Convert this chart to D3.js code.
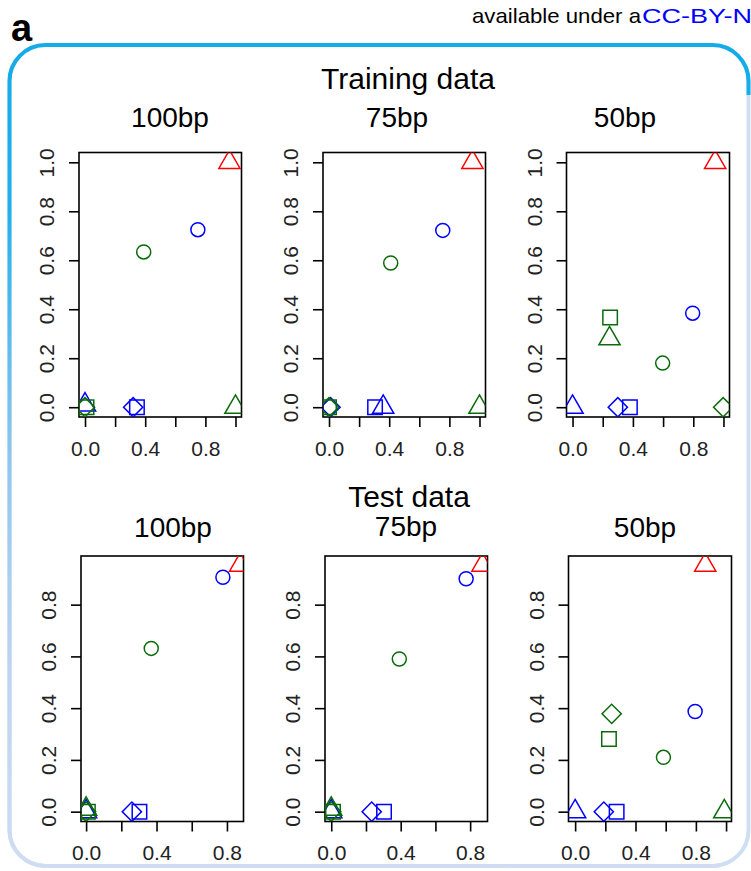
<!DOCTYPE html>
<html>
<head>
<meta charset="utf-8">
<script src="https://cdn.jsdelivr.net/npm/d3@7"></script>
<style>
  body { margin: 0; background: #fff; }
  svg { display: block; font-family: "Liberation Sans", Arial, sans-serif; }
</style>
</head>
<body>
<div id="chart"></div>
<script>
// series (same order in every panel)
var seriesNames  = ["blue circle", "blue square", "blue triangle", "blue diamond",
                    "green circle", "green square", "green triangle", "green diamond", "red triangle"];
var seriesShapes = ["circle", "square", "triangle", "diamond",
                    "circle", "square", "triangle", "diamond", "triangle"];
var seriesColors = ["#0000ff", "#0000ff", "#0000ff", "#0000ff",
                    "#0b6b0b", "#0b6b0b", "#0b6b0b", "#0b6b0b", "#ff0000"];

// Training data
var train100X = [0.75, 0.345, 0.0, 0.32, 0.39, 0.01, 1.0, 0.0, 0.96];
var train100Y = [0.725, 0.0, 0.01, 0.0, 0.634, 0.0, 0.0, 0.0, 1.0];
var train75X  = [0.756, 0.306, 0.36, 0.01, 0.41, 0.0, 1.0, 0.0, 0.953];
var train75Y  = [0.722, 0.0, 0.0, 0.0, 0.589, 0.0, 0.0, 0.0, 1.0];
var train50X  = [0.796, 0.38, 0.0, 0.30, 0.597, 0.249, 0.245, 0.998, 0.945];
var train50Y  = [0.384, 0.0, 0.0, 0.0, 0.18, 0.366, 0.28, 0.0, 1.0];

// Test data
var test100X = [0.777, 0.303, 0.0, 0.26, 0.37, 0.01, 0.0, 0.0, 0.875];
var test100Y = [0.906, 0.0, 0.0, 0.0, 0.631, 0.0, 0.01, 0.0, 0.953];
var test75X  = [0.777, 0.304, 0.0, 0.233, 0.392, 0.01, 0.0, 0.0, 0.871];
var test75Y  = [0.9, 0.0, 0.0, 0.0, 0.59, 0.0, 0.01, 0.0, 0.953];
var test50X  = [0.795, 0.275, 0.0, 0.19, 0.585, 0.224, 0.988, 0.242, 0.862];
var test50Y  = [0.387, 0.0, 0.0, 0.0, 0.21, 0.281, 0.0, 0.378, 0.953];

// titles and ticks
var groupTitles = ["Training data", "Test data"];
var panelTitles = ["100bp", "75bp", "50bp"];
var xTicks = [0, 0.2, 0.4, 0.6, 0.8, 1.0];
var xTickLabels = [0, 0.4, 0.8];
var yTicksTrain = [0, 0.2, 0.4, 0.6, 0.8, 1.0];
var yTicksTest = [0, 0.2, 0.4, 0.6, 0.8];

var W = 751, H = 871;

var svg = d3.select("#chart").append("svg")
  .attr("width", W)
  .attr("height", H);

// border gradient
var defs = svg.append("defs");
var grad = defs.append("linearGradient")
  .attr("id", "borderGrad")
  .attr("gradientUnits", "userSpaceOnUse")
  .attr("x1", 0).attr("y1", 45).attr("x2", 0).attr("y2", 868);
grad.append("stop").attr("offset", 0).attr("stop-color", "#12ace8");
grad.append("stop").attr("offset", 0.2).attr("stop-color", "#22b0ea");
grad.append("stop").attr("offset", 0.5).attr("stop-color", "#8ec6ef");
grad.append("stop").attr("offset", 0.75).attr("stop-color", "#bcd4f0");
grad.append("stop").attr("offset", 1).attr("stop-color", "#d0dcf2");

defs.append("clipPath").attr("id", "leftTop")
  .append("path")
  .attr("d", "M0,0H751V95H720V871H0Z");

// pale full border, then bright top/left part
svg.append("rect")
  .attr("x", 9.5).attr("y", 45)
  .attr("width", 739).attr("height", 821)
  .attr("rx", 36).attr("ry", 36)
  .attr("fill", "none")
  .attr("stroke", "#cfdff3")
  .attr("stroke-width", 4);
svg.append("rect")
  .attr("x", 9.5).attr("y", 45)
  .attr("width", 739).attr("height", 821)
  .attr("rx", 36).attr("ry", 36)
  .attr("fill", "none")
  .attr("stroke", "url(#borderGrad)")
  .attr("stroke-width", 4)
  .attr("clip-path", "url(#leftTop)");

// header
svg.append("text")
  .attr("x", 11).attr("y", 41)
  .style("font-size", "38px")
  .style("font-weight", "bold")
  .text("a");
svg.append("text")
  .attr("x", 472).attr("y", 23)
  .attr("textLength", 169)
  .attr("lengthAdjust", "spacingAndGlyphs")
  .style("font-size", "21px")
  .attr("fill", "#000")
  .text("available under a");
svg.append("text")
  .attr("x", 642).attr("y", 23)
  .attr("textLength", 110)
  .attr("lengthAdjust", "spacingAndGlyphs")
  .style("font-size", "21px")
  .attr("fill", "#0000ff")
  .text("CC-BY-N");

// group titles
var groupLayout = [
  {title: groupTitles[0], x: 408, y: 89},
  {title: groupTitles[1], x: 409, y: 507}
];
groupLayout.forEach(function(g) {
  svg.append("text")
    .attr("x", g.x).attr("y", g.y)
    .attr("text-anchor", "middle")
    .style("font-size", "30px")
    .text(g.title);
});

// panels
var panels = [
  {title: panelTitles[0], tx: 170, ty: 127, xs: train100X, ys: train100Y, box: [79, 152.5, 241.5, 417], xd: [-0.04, 1.04], yd: [-0.04, 1.04], yt: yTicksTrain},
  {title: panelTitles[1], tx: 397, ty: 127, xs: train75X,  ys: train75Y,  box: [323, 152.5, 485.5, 417], xd: [-0.04, 1.04], yd: [-0.04, 1.04], yt: yTicksTrain},
  {title: panelTitles[2], tx: 625, ty: 127, xs: train50X,  ys: train50Y,  box: [566.5, 152.5, 729.5, 417], xd: [-0.04, 1.04], yd: [-0.04, 1.04], yt: yTicksTrain},
  {title: panelTitles[0], tx: 173, ty: 537, xs: test100X, ys: test100Y, box: [81, 556, 243.5, 821.5], xd: [-0.029, 0.894], yd: [-0.038, 0.988], yt: yTicksTest},
  {title: panelTitles[1], tx: 406, ty: 536, xs: test75X,  ys: test75Y,  box: [325, 556, 487.5, 821.5], xd: [-0.036, 0.9], yd: [-0.038, 0.988], yt: yTicksTest},
  {title: panelTitles[2], tx: 645, ty: 537, xs: test50X,  ys: test50Y,  box: [568.5, 556, 731.5, 821.5], xd: [-0.044, 1.036], yd: [-0.038, 0.988], yt: yTicksTest}
];

var symbolTypes = {
  circle: d3.symbolCircle,
  square: d3.symbolSquare,
  triangle: d3.symbolTriangle,
  diamond: d3.symbolSquare
};
var symbolSizes = {circle: 154, square: 210, triangle: 195, diamond: 185};

panels.forEach(function(p, i) {
  var x0 = p.box[0], y0 = p.box[1], x1 = p.box[2], y1 = p.box[3];
  var x = d3.scaleLinear().domain(p.xd).range([x0, x1]);
  var y = d3.scaleLinear().domain(p.yd).range([y1, y0]);

  svg.append("text")
    .attr("x", p.tx).attr("y", p.ty)
    .attr("text-anchor", "middle")
    .style("font-size", "28px")
    .text(p.title);

  defs.append("clipPath").attr("id", "clip" + i)
    .append("rect")
    .attr("x", x0).attr("y", y0)
    .attr("width", x1 - x0).attr("height", y1 - y0);

  var g = svg.append("g");

  // x axis
  var xa = g.append("g")
    .attr("transform", "translate(0," + y1 + ")")
    .call(d3.axisBottom(x)
      .tickValues(xTicks.filter(function(t) { return t <= p.xd[1]; }))
      .tickSize(10)
      .tickPadding(12)
      .tickFormat(function(d) {
        return xTickLabels.some(function(l) { return Math.abs(l - d) < 1e-9; }) ? d3.format(".1f")(d) : "";
      }));
  xa.select(".domain").remove();
  xa.selectAll("line").attr("stroke", "#000").attr("stroke-width", 1.6);
  xa.selectAll("text")
    .attr("fill", "#222")
    .attr("dy", 0).attr("y", 38.5)
    .style("font-size", "21px")
    .style("font-family", "'Liberation Sans', Arial, sans-serif");

  // y axis
  var ya = g.append("g")
    .attr("transform", "translate(" + x0 + ",0)")
    .call(d3.axisLeft(y)
      .tickValues(p.yt)
      .tickSize(10)
      .tickFormat(d3.format(".1f")));
  ya.select(".domain").remove();
  ya.selectAll("line").attr("stroke", "#000").attr("stroke-width", 1.6);
  ya.selectAll("text")
    .attr("fill", "#222")
    .attr("x", null).attr("dy", null)
    .attr("text-anchor", "middle")
    .attr("transform", "translate(-25,0) rotate(-90)")
    .style("font-size", "21px")
    .style("font-family", "'Liberation Sans', Arial, sans-serif");

  // box
  g.append("rect")
    .attr("x", x0).attr("y", y0)
    .attr("width", x1 - x0).attr("height", y1 - y0)
    .attr("fill", "none")
    .attr("stroke", "#000")
    .attr("stroke-width", 1.6);

  // points
  var pts = p.xs.map(function(v, k) {
    return {name: seriesNames[k], shape: seriesShapes[k], color: seriesColors[k], x: v, y: p.ys[k]};
  });
  g.append("g")
    .attr("clip-path", "url(#clip" + i + ")")
    .selectAll("path")
    .data(pts)
    .enter().append("path")
    .attr("d", function(d) {
      return d3.symbol().type(symbolTypes[d.shape]).size(symbolSizes[d.shape])();
    })
    .attr("transform", function(d) {
      var t = "translate(" + x(d.x) + "," + y(d.y) + ")";
      return d.shape === "diamond" ? t + " rotate(45)" : t;
    })
    .attr("fill", "none")
    .attr("stroke", function(d) { return d.color; })
    .attr("stroke-width", 1.5);
});
</script>
</body>
</html>
